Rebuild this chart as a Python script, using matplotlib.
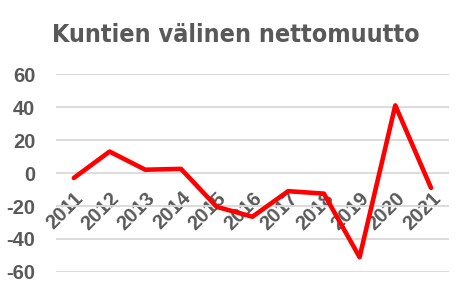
import matplotlib.pyplot as plt

years = ['2011', '2012', '2013', '2014', '2015', '2016', '2017', '2018', '2019', '2020', '2021']
nettomuutto = [-3, 13, 2, 2.5, -20.5, -26.5, -11, -12.5, -51, 41, -9]
y_ticks = [-60, -40, -20, 0, 20, 40, 60]

gray = '#595959'
fig = plt.figure(figsize=(4.72, 2.95), dpi=100)
ax = fig.add_axes([0.1186, 0.078, 0.8324, 0.671])

x = list(range(len(years)))
ax.plot(x, nettomuutto, color='#ff0000', linewidth=3.3,
        solid_capstyle='round', solid_joinstyle='round', zorder=3)

ax.set_xlim(-0.5, len(years) - 0.5)
ax.set_ylim(-60, 60)
ax.set_yticks(y_ticks)
ax.set_yticklabels([str(v) for v in y_ticks])
ax.yaxis.grid(True, color='#d9d9d9', linewidth=1.3)
ax.set_axisbelow(True)

for s in ['top', 'right', 'left']:
    ax.spines[s].set_visible(False)
ax.spines['bottom'].set_position(('data', 0))
ax.spines['bottom'].set_visible(False)

ax.set_xticks(x)
ax.set_xticklabels(years, rotation=45, ha='right', va='top', rotation_mode='anchor')
ax.tick_params(axis='x', length=0, pad=11)
ax.tick_params(axis='y', length=0, pad=15)
for lab in ax.get_xticklabels() + ax.get_yticklabels():
    lab.set_fontfamily(['Liberation Sans', 'DejaVu Sans'])
    lab.set_fontweight('bold')
    lab.set_fontsize(14.5)
    lab.set_color(gray)

fig.text(0.5, 0.882, 'Kuntien välinen nettomuutto', ha='center', va='center',
         fontsize=18, fontweight='bold', fontstretch='condensed', color=gray,
         family='DejaVu Sans')

fig.savefig('out.png', dpi=100)
